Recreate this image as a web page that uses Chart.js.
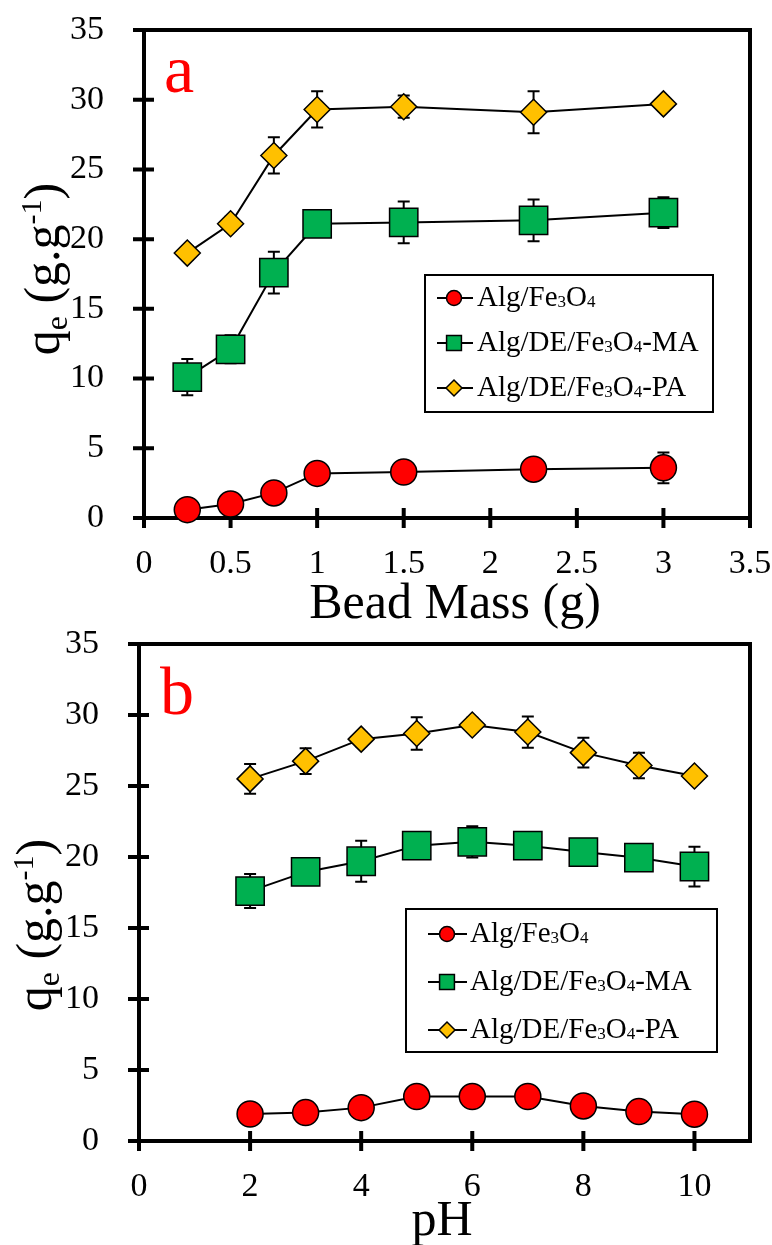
<!DOCTYPE html>
<html>
<head>
<meta charset="utf-8">
<script src="https://cdn.jsdelivr.net/npm/chart.js@4.4.0/dist/chart.umd.min.js"></script>
<style>
    body { margin: 0; background: #fff; }
    .panel { position: absolute; left: 0; width: 772px; }
    #wrapA { top: 0; height: 640px; }
    #wrapB { top: 600px; height: 645px; }
</style>
</head>
<body>
<div class="panel" id="wrapA"><canvas id="chartA"></canvas></div>
<div class="panel" id="wrapB"><canvas id="chartB"></canvas></div>
<script>
// ---- data ----
const seriesNames = ['Alg/Fe₃O₄', 'Alg/DE/Fe₃O₄-MA', 'Alg/DE/Fe₃O₄-PA'];

// (a) effect of bead mass
const massX = [0.25, 0.5, 0.75, 1, 1.5, 2.25, 3];
const massAlg = [0.6, 1.0, 1.8, 3.2, 3.3, 3.5, 3.6];
const massAlgErr = [0.3, 0.3, 0.4, 0.4, 0.4, 0.4, 1.1];
const massMA = [10.1, 12.1, 17.6, 21.1, 21.2, 21.35, 21.9];
const massMAErr = [1.3, 1.0, 1.5, 0.9, 1.5, 1.5, 1.1];
const massPA = [19.0, 21.1, 26.0, 29.3, 29.5, 29.1, 29.7];
const massPAErr = [0.5, 0.5, 1.3, 1.3, 0.8, 1.5, 0.5];
const massTicks = [0, 0.5, 1, 1.5, 2, 2.5, 3, 3.5];

// (b) effect of pH
const phX = [2, 3, 4, 5, 6, 7, 8, 9, 10];
const phAlg = [1.9, 2.0, 2.35, 3.13, 3.13, 3.13, 2.47, 2.07, 1.89];
const phAlgErr = [0.3, 0.3, 0.3, 0.3, 0.3, 0.3, 0.3, 0.3, 0.3];
const phMA = [17.6, 18.95, 19.7, 20.8, 21.07, 20.8, 20.35, 19.95, 19.33];
const phMAErr = [1.2, 0.8, 1.45, 0.8, 1.1, 0.8, 0.7, 0.9, 1.4];
const phPA = [25.5, 26.75, 28.3, 28.7, 29.3, 28.8, 27.35, 26.45, 25.7];
const phPAErr = [1.05, 0.9, 0.5, 1.15, 0.5, 1.1, 1.05, 0.9, 0.4];
const phTicks = [0, 2, 4, 6, 8, 10];

const yTicks = [0, 5, 10, 15, 20, 25, 30, 35];

const FONT = '"Liberation Serif", "Times New Roman", serif';
const SUB = { '₃': '3', '₄': '4' };

const seriesStyle = [
    { color: '#FF0000', pointStyle: 'circle', radius: 13, legendRadius: 7.5 },
    { color: '#00B050', pointStyle: 'rect', radius: 20, legendRadius: 10.5 },
    { color: '#FFC000', pointStyle: 'rectRot', radius: 13, legendRadius: 8 }
];

function makeDataset(i, xs, ys, errs) {
    const s = seriesStyle[i];
    return {
        label: seriesNames[i],
        data: xs.map((x, k) => ({ x: x, y: ys[k] })),
        errors: errs,
        showLine: true,
        borderColor: '#000',
        borderWidth: 2,
        backgroundColor: s.color,
        pointBackgroundColor: s.color,
        pointBorderColor: '#000',
        pointBorderWidth: 1.5,
        pointRadius: s.radius,
        pointStyle: s.pointStyle,
        legendRadius: s.legendRadius,
        clip: false
    };
}

// draw text parts one after another on a shared baseline
function drawRich(ctx, parts, x, y) {
    let cx = x;
    parts.forEach(p => {
        ctx.font = p.size + 'px ' + FONT;
        ctx.fillText(p.t, cx, y + (p.dy || 0));
        cx += ctx.measureText(p.t).width;
    });
}

function richWidth(ctx, parts) {
    let w = 0;
    parts.forEach(p => { ctx.font = p.size + 'px ' + FONT; w += ctx.measureText(p.t).width; });
    return w;
}

// subscript digits (₃ ₄) become small digits on the baseline
function nameParts(name, size) {
    const parts = [];
    for (const ch of name) {
        const small = !!SUB[ch];
        const t = small ? SUB[ch] : ch;
        const last = parts[parts.length - 1];
        if (last && last.small === small) last.t += t;
        else parts.push({ t: t, small: small, size: small ? 17 : size, dy: small ? 1 : 0 });
    }
    return parts;
}

const yTitleParts = [
    { t: 'q', size: 50 },
    { t: 'e', size: 32, dy: 8 },
    { t: ' (g.g', size: 50 },
    { t: '-1', size: 30, dy: -18 },
    { t: ')', size: 50 }
];

// frame + ticks crossing the axis, drawn under the data
const framePlugin = {
    id: 'frame',
    beforeDatasetsDraw(chart) {
        const { ctx, chartArea: a, scales } = chart;
        ctx.save();
        ctx.strokeStyle = '#000';
        ctx.lineWidth = 4;
        ctx.strokeRect(a.left, a.top, a.right - a.left, a.bottom - a.top);
        ctx.beginPath();
        scales.x.ticks.forEach(t => {
            const px = scales.x.getPixelForValue(t.value);
            ctx.moveTo(px, a.bottom - 10);
            ctx.lineTo(px, a.bottom + 10);
        });
        scales.y.ticks.forEach(t => {
            const py = scales.y.getPixelForValue(t.value);
            ctx.moveTo(a.left - 11, py);
            ctx.lineTo(a.left + 10, py);
        });
        ctx.stroke();
        ctx.restore();
    }
};

const errorBarPlugin = {
    id: 'errorBars',
    beforeDatasetsDraw(chart) {
        const { ctx, scales: { x, y } } = chart;
        ctx.save();
        ctx.strokeStyle = '#000';
        ctx.lineWidth = 2;
        chart.data.datasets.forEach(ds => {
            if (!ds.errors) return;
            ds.data.forEach((p, i) => {
                const e = ds.errors[i];
                if (!e) return;
                const px = x.getPixelForValue(p.x);
                const top = y.getPixelForValue(p.y + e);
                const bot = y.getPixelForValue(p.y - e);
                ctx.beginPath();
                ctx.moveTo(px, top); ctx.lineTo(px, bot);
                ctx.moveTo(px - 6, top); ctx.lineTo(px + 6, top);
                ctx.moveTo(px - 6, bot); ctx.lineTo(px + 6, bot);
                ctx.stroke();
            });
        });
        ctx.restore();
    }
};

function drawMarker(ctx, style, radius, x, y) {
    if (Chart.helpers && Chart.helpers.drawPoint) {
        Chart.helpers.drawPoint(ctx, { pointStyle: style, radius: radius, borderWidth: 1.5, rotation: 0 }, x, y);
    }
}

// panel letter, axis titles and boxed legend
const decorPlugin = {
    id: 'decor',
    afterDraw(chart, args, opts) {
        const { ctx } = chart;
        ctx.save();
        ctx.textBaseline = 'alphabetic';

        ctx.fillStyle = '#FF0000';
        ctx.textAlign = 'left';
        ctx.font = '68px ' + FONT;
        ctx.fillText(opts.letter, opts.letterX, opts.letterY);

        ctx.fillStyle = '#000';
        ctx.textAlign = 'center';
        ctx.font = '50px ' + FONT;
        ctx.fillText(opts.xTitle, opts.xTitleX, opts.xTitleY);

        ctx.textAlign = 'left';
        ctx.save();
        ctx.translate(opts.yTitleX, opts.yTitleY);
        ctx.rotate(-Math.PI / 2);
        const w = richWidth(ctx, yTitleParts);
        drawRich(ctx, yTitleParts, -w / 2, 0);
        ctx.restore();

        const lg = opts.legend;
        ctx.strokeStyle = '#000';
        ctx.lineWidth = 2;
        ctx.strokeRect(lg.left, lg.top, lg.right - lg.left, lg.bottom - lg.top);
        chart.data.datasets.forEach((ds, i) => {
            const ry = lg.rows[i];
            ctx.beginPath();
            ctx.lineWidth = 2;
            ctx.strokeStyle = '#000';
            ctx.moveTo(lg.lineX[0], ry);
            ctx.lineTo(lg.lineX[1], ry);
            ctx.stroke();
            ctx.fillStyle = ds.backgroundColor;
            ctx.lineWidth = 1.5;
            drawMarker(ctx, ds.pointStyle, ds.legendRadius, lg.markX, ry);
            ctx.fillStyle = '#000';
            drawRich(ctx, nameParts(ds.label, 29), lg.textX, ry + 8);
        });
        ctx.restore();
    }
};

function noScalePadding(s) {
    s.paddingLeft = 0; s.paddingRight = 0; s.paddingTop = 0; s.paddingBottom = 0;
}

function makeChart(id, cfg) {
    return new Chart(document.getElementById(id), {
        type: 'scatter',
        data: { datasets: cfg.datasets },
        options: {
            responsive: true,
            maintainAspectRatio: false,
            animation: false,
            events: [],
            layout: { padding: { top: cfg.padTop, right: 22, left: 0, bottom: 0 } },
            scales: {
                x: {
                    type: 'linear',
                    min: cfg.xMin, max: cfg.xMax,
                    grid: { display: false },
                    border: { display: false },
                    ticks: {
                        padding: 18,
                        color: '#000',
                        font: { family: FONT, size: 34 },
                        maxRotation: 0,
                        autoSkip: false,
                        callback: v => String(v)
                    },
                    afterBuildTicks: s => { s.ticks = cfg.xTicks.map(v => ({ value: v })); },
                    afterFit: s => { s.height = cfg.xAxisHeight; noScalePadding(s); }
                },
                y: {
                    type: 'linear',
                    min: 0, max: 35,
                    grid: { display: false },
                    border: { display: false },
                    ticks: {
                        padding: 32,
                        color: '#000',
                        font: { family: FONT, size: 34 },
                        autoSkip: false,
                        callback: v => String(v)
                    },
                    afterBuildTicks: s => { s.ticks = yTicks.map(v => ({ value: v })); },
                    afterFit: s => { s.width = cfg.yAxisWidth; noScalePadding(s); }
                }
            },
            plugins: {
                legend: { display: false },
                tooltip: { enabled: false },
                decor: cfg.decor
            }
        },
        plugins: [framePlugin, errorBarPlugin, decorPlugin]
    });
}

makeChart('chartA', {
    datasets: [
        makeDataset(0, massX, massAlg, massAlgErr),
        makeDataset(1, massX, massMA, massMAErr),
        makeDataset(2, massX, massPA, massPAErr)
    ],
    xMin: 0, xMax: 3.5, xTicks: massTicks,
    padTop: 30, xAxisHeight: 122, yAxisWidth: 144,
    decor: {
        letter: 'a', letterX: 164, letterY: 92,
        xTitle: 'Bead Mass (g)', xTitleX: 455, xTitleY: 618,
        yTitleX: 59, yTitleY: 269,
        legend: { left: 425, top: 275, right: 713, bottom: 412, rows: [298, 343, 388], lineX: [437, 473], markX: 454, textX: 477 }
    }
});

makeChart('chartB', {
    datasets: [
        makeDataset(0, phX, phAlg, phAlgErr),
        makeDataset(1, phX, phMA, phMAErr),
        makeDataset(2, phX, phPA, phPAErr)
    ],
    xMin: 0, xMax: 11, xTicks: phTicks,
    padTop: 44, xAxisHeight: 104, yAxisWidth: 139,
    decor: {
        letter: 'b', letterX: 160, letterY: 114,
        xTitle: 'pH', xTitleX: 442, xTitleY: 635,
        yTitleX: 51, yTitleY: 325,
        legend: { left: 406, top: 309, right: 717, bottom: 452, rows: [334, 382, 430], lineX: [428, 467], markX: 447, textX: 470 }
    }
});
</script>
</body>
</html>
